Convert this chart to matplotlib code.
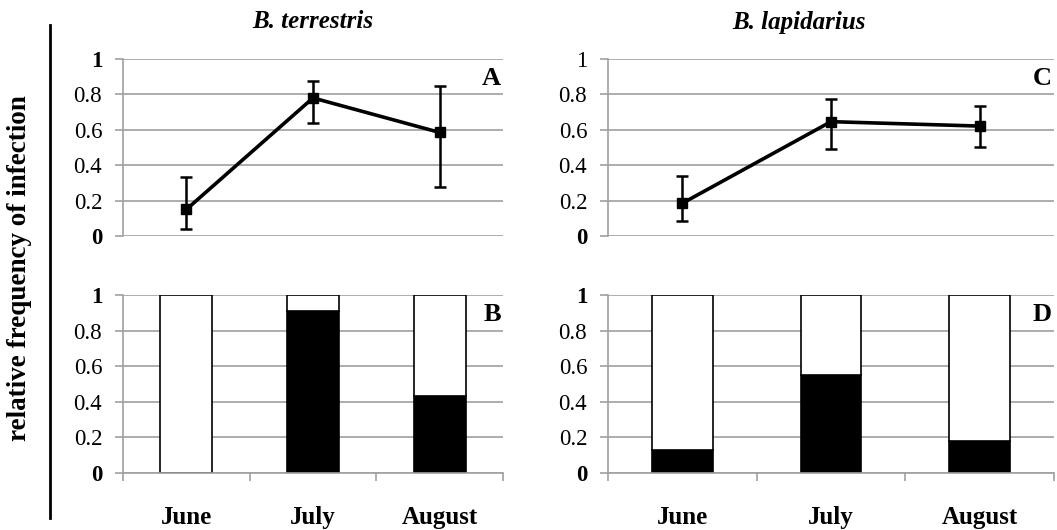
import numpy as np
import matplotlib.pyplot as plt

plt.rcParams['font.family'] = ['Liberation Serif', 'DejaVu Serif']

months = ['June', 'July', 'August']

# relative frequency of infection (mean with error-bar limits)
terr_mean = [0.15, 0.78, 0.585]
terr_low = [0.04, 0.64, 0.275]
terr_high = [0.335, 0.877, 0.847]
lapi_mean = [0.185, 0.646, 0.621]
lapi_low = [0.085, 0.493, 0.501]
lapi_high = [0.34, 0.774, 0.734]

# proportion of infected bees in the stacked bars
terr_infected = [0.0, 0.91, 0.433]
lapi_infected = [0.128, 0.55, 0.178]

ytick_vals = [0, 0.2, 0.4, 0.6, 0.8, 1]
ytick_text = ['0', '0.2', '0.4', '0.6', '0.8', '1']

W, H = 1057, 530
fig = plt.figure(figsize=(W / 100, H / 100), dpi=100)

def box(x0, x1, ytop, ybot):
    return [x0 / W, 1 - ybot / H, (x1 - x0) / W, (ybot - ytop) / H]

grey = '#a0a0a0'

def style(ax, bars, bold_one=True):
    ax.set_xlim(-0.5, 2.5)
    ax.set_ylim(0, 1)
    ax.set_yticks(ytick_vals)
    ax.set_yticklabels(ytick_text, fontsize=16.5)
    for lab in ax.get_yticklabels():
        t = lab.get_text()
        if t == '0' or (t == '1' and bold_one):
            lab.set_fontweight('bold')
    ax.yaxis.grid(True, color=grey, linewidth=1.2)
    ax.set_axisbelow(True)
    for s in ['top', 'right']:
        ax.spines[s].set_visible(False)
    ax.spines['left'].set_color(grey)
    ax.spines['left'].set_linewidth(1.2)
    ax.tick_params(axis='y', length=6, color=grey, width=1.2, pad=9)
    if bars:
        ax.spines['bottom'].set_color(grey)
        ax.spines['bottom'].set_linewidth(1.2)
        ax.set_xticks([-0.5, 0.5, 1.5, 2.5], minor=False)
        ax.set_xticklabels([])
        ax.set_xticks([0, 1, 2], minor=True)
        ax.set_xticklabels(months, minor=True, fontsize=18, fontweight='bold')
        ax.tick_params(axis='x', which='major', length=6, color=grey, width=1.2, direction='out')
        ax.tick_params(axis='x', which='minor', length=0, pad=24)
    else:
        ax.spines['bottom'].set_visible(False)
        ax.set_xticks([])

def line_panel(ax, mean, low, high, letter, bold_one=True):
    x = np.arange(len(months))
    m = np.array(mean)
    err = [m - np.array(low), np.array(high) - m]
    ax.errorbar(x, m, yerr=err, color='black', linewidth=2.6, marker='s',
                markersize=6.5, ecolor='black', elinewidth=1.8, capsize=4, capthick=1.8)
    style(ax, False, bold_one)
    ax.text(0.995, 0.89, letter, transform=ax.transAxes, ha='right', va='center',
            fontsize=19, fontweight='bold')

def bar_panel(ax, infected, width, letter):
    x = np.arange(len(months))
    inf = np.array(infected)
    ax.bar(x, inf, width=width, color='black', edgecolor='black', linewidth=1.2)
    ax.bar(x, 1 - inf, bottom=inf, width=width, color='white', edgecolor='black', linewidth=1.2)
    style(ax, True)
    ax.text(0.995, 0.89, letter, transform=ax.transAxes, ha='right', va='center',
            fontsize=19, fontweight='bold')

axA = fig.add_axes(box(123, 503, 59, 236))
axB = fig.add_axes(box(123, 503, 295, 473))
axC = fig.add_axes(box(608, 1054, 59, 236))
axD = fig.add_axes(box(608, 1054, 295, 473))

line_panel(axA, terr_mean, terr_low, terr_high, 'A')
bar_panel(axB, terr_infected, 0.41, 'B')
line_panel(axC, lapi_mean, lapi_low, lapi_high, 'C', bold_one=False)
bar_panel(axD, lapi_infected, 0.41, 'D')

fig.text(313 / W, 1 - 22 / H, 'B. terrestris', ha='center', va='center',
         fontsize=18, fontweight='bold', style='italic')
fig.text(799 / W, 1 - 22 / H, 'B. lapidarius', ha='center', va='center',
         fontsize=18, fontweight='bold', style='italic')
fig.text(20 / W, 1 - 268 / H, 'relative frequency of infection', rotation=90,
         ha='center', va='center', fontsize=19.5, fontweight='bold')
fig.add_artist(plt.Line2D([50 / W, 50 / W], [1 - 25 / H, 1 - 518 / H],
                          color='black', linewidth=2))

fig.savefig('out.png', dpi=100)
